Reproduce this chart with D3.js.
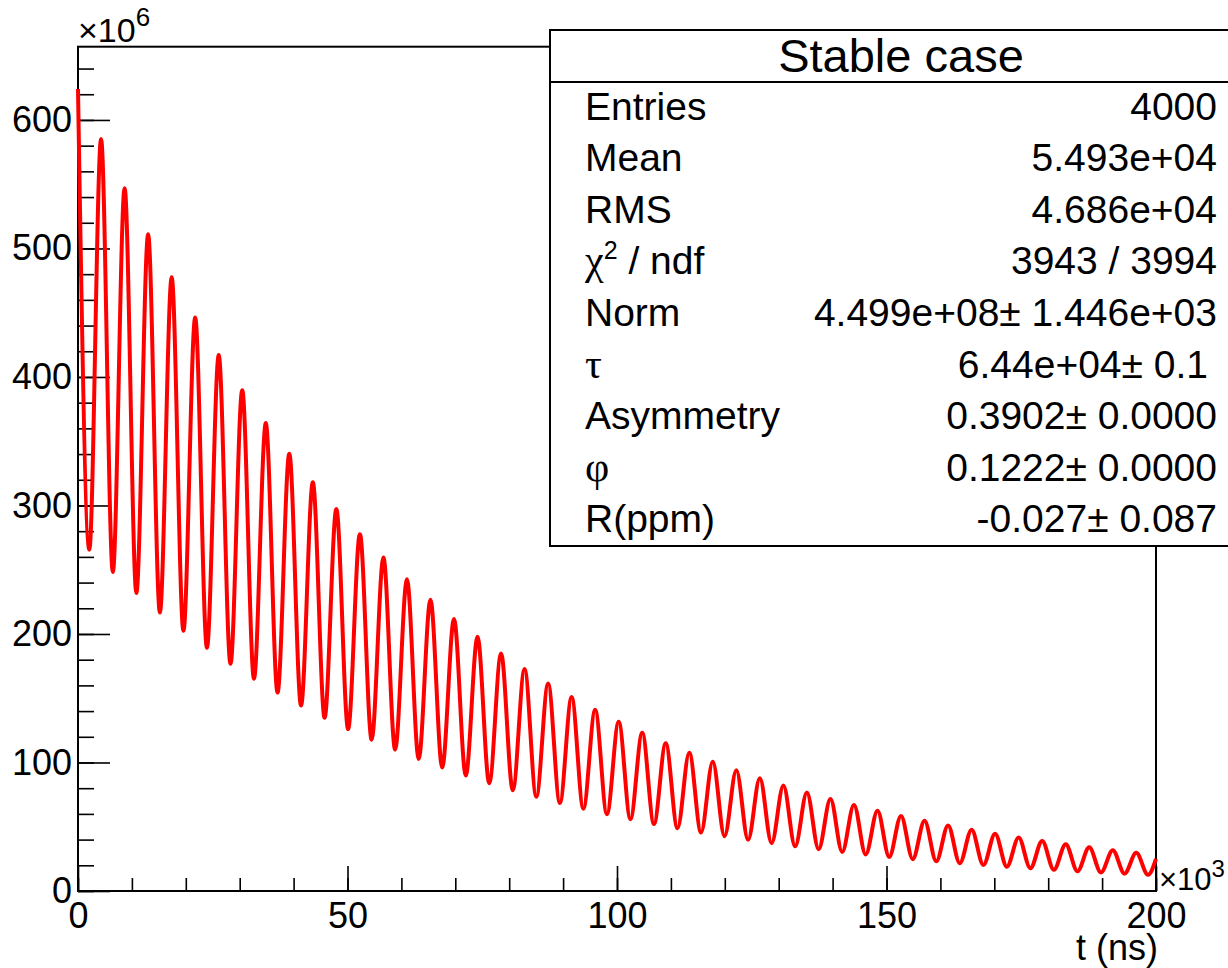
<!DOCTYPE html>
<html>
<head>
<meta charset="utf-8">
<script src="https://cdn.jsdelivr.net/npm/d3@7"></script>
<style>
  body { margin: 0; background: #fff; }
  svg { display: block; font-family: "Liberation Sans", Arial, Helvetica, sans-serif; }
  .greek { font-family: "Liberation Serif", "DejaVu Serif", serif; }
</style>
</head>
<body>
<div id="chart"></div>
<script>
// fitted curve at its peaks and troughs (t in 10^3 ns, counts in 10^6)
var fitTimes = [
    0, 2.10, 4.28, 6.46, 8.65, 10.83, 13.01, 15.19, 17.38, 19.56, 21.74,
    23.92, 26.11, 28.29, 30.47, 32.65, 34.84, 37.02, 39.20, 41.38, 43.57,
    45.75, 47.93, 50.11, 52.30, 54.48, 56.66, 58.84, 61.03, 63.21, 65.39,
    67.57, 69.76, 71.94, 74.12, 76.30, 78.49, 80.67, 82.85, 85.03, 87.22,
    89.40, 91.58, 93.76, 95.95, 98.13, 100.31, 102.49, 104.68, 106.86, 109.04,
    111.22, 113.41, 115.59, 117.77, 119.95, 122.14, 124.32, 126.50, 128.68, 130.87,
    133.05, 135.23, 137.41, 139.60, 141.78, 143.96, 146.14, 148.33, 150.51, 152.69,
    154.87, 157.06, 159.24, 161.42, 163.60, 165.79, 167.97, 170.15, 172.33, 174.52,
    176.70, 178.88, 181.06, 183.25, 185.43, 187.61, 189.79, 191.98, 194.16, 196.34,
    198.52, 200
];
var fitCounts = [
    624.1, 265.6, 585.2, 248.2, 546.9, 231.9, 511.0, 216.7, 477.6, 202.5, 446.3,
    189.2, 417.0, 176.8, 389.7, 165.2, 364.1, 154.4, 340.3, 144.3, 318.0,
    134.8, 297.2, 126.0, 277.7, 117.7, 259.5, 110.0, 242.5, 102.8, 226.6,
    96.1, 211.7, 89.8, 197.9, 83.9, 184.9, 78.4, 172.8, 73.3, 161.5,
    68.5, 150.9, 64.0, 141.0, 59.8, 131.7, 55.9, 123.1, 52.2, 115.0,
    48.8, 107.5, 45.6, 100.5, 42.6, 93.9, 39.8, 87.7, 37.2, 82.0,
    34.8, 76.6, 32.5, 71.6, 30.4, 66.9, 28.4, 62.5, 26.5, 58.4,
    24.8, 54.6, 23.1, 51.0, 21.6, 47.7, 20.2, 44.5, 18.9, 41.6,
    17.7, 38.9, 16.5, 36.4, 15.4, 34.0, 14.4, 31.7, 13.5, 29.7,
    12.6, 25.0
];

var xMajorTicks = [0, 50, 100, 150, 200];
var xMinorTicks = d3.range(0, 201, 10);
var yMajorTicks = [0, 100, 200, 300, 400, 500, 600];
var yMinorTicks = d3.range(0, 641, 20);

var statsTitle = "Stable case";
var statsLabels = ["Entries", "Mean", "RMS", "chi2", "Norm", "τ", "Asymmetry", "φ", "R(ppm)"];
var statsValues = ["4000", "5.493e+04", "4.686e+04", "3943 / 3994", "4.499e+08\u00b1 1.446e+03",
    "6.44e+04\u00b1 0.1", "0.3902\u00b1 0.0000", "0.1222\u00b1 0.0000", "-0.027\u00b1 0.087"];

var width = 1228,
    height = 968;

// frame edges in pixels
var frameL = 78, frameR = 1156, frameT = 46.7, frameB = 891;

var x = d3.scaleLinear().domain([0, 200]).range([frameL, frameR]);
var y = d3.scaleLinear().domain([0, 657]).range([frameB, frameT]);

var svg = d3.select("#chart")
    .append("svg")
    .attr("width", width)
    .attr("height", height);

// frame
svg.append("rect")
    .attr("x", frameL)
    .attr("y", frameT)
    .attr("width", frameR - frameL)
    .attr("height", frameB - frameT)
    .attr("fill", "none")
    .attr("stroke", "#000")
    .attr("stroke-width", 2);

// x axis: major ticks with labels, minor ticks without
svg.append("g")
    .attr("transform", "translate(0," + frameB + ")")
    .call(d3.axisBottom(x).tickValues(xMajorTicks).tickSizeInner(-25).tickSizeOuter(0)
        .tickPadding(11).tickFormat(d3.format("d")));
svg.append("g")
    .attr("transform", "translate(0," + frameB + ")")
    .call(d3.axisBottom(x).tickValues(xMinorTicks).tickSizeInner(-13).tickSizeOuter(0)
        .tickFormat(""));

svg.append("g")
    .attr("transform", "translate(" + frameL + ",0)")
    .call(d3.axisLeft(y).tickValues(yMajorTicks).tickSizeInner(-32).tickSizeOuter(0)
        .tickPadding(6).tickFormat(d3.format("d")));
svg.append("g")
    .attr("transform", "translate(" + frameL + ",0)")
    .call(d3.axisLeft(y).tickValues(yMinorTicks).tickSizeInner(-16).tickSizeOuter(0)
        .tickFormat(""));

svg.selectAll(".domain").remove();
svg.selectAll(".tick line").attr("stroke", "#000").attr("stroke-width", 1.6);
svg.selectAll(".tick text")
    .attr("fill", "#000")
    .style("font-size", "36px")
    .style("font-family", "'Liberation Sans', Arial, Helvetica, sans-serif");

// exponent labels
var e6 = svg.append("text")
    .attr("x", frameL)
    .attr("y", 42)
    .style("font-size", "34px");
e6.append("tspan").text("\u00d710");
e6.append("tspan").attr("dy", -16).style("font-size", "26px").text("6");

var e3 = svg.append("text")
    .attr("x", frameR + 3)
    .attr("y", 890)
    .style("font-size", "31px");
e3.append("tspan").text("\u00d710");
e3.append("tspan").attr("dy", -13).style("font-size", "24px").text("3");

svg.append("text")
    .attr("x", frameR + 2)
    .attr("y", 960)
    .attr("text-anchor", "end")
    .style("font-size", "36px")
    .text("t (ns)");

// fit curve
var line = d3.line()
    .x(function (d, i) { return x(fitTimes[i]); })
    .y(function (d) { return y(d); })
    .curve(d3.curveMonotoneX);

svg.append("path")
    .datum(fitCounts)
    .attr("d", line)
    .attr("fill", "none")
    .attr("stroke", "#ff0000")
    .attr("stroke-width", 4)
    .attr("stroke-linejoin", "round");

// stats box
var boxX = 550, boxY = 30, boxW = 702, boxH = 516, headH = 52;
var stats = svg.append("g");
stats.append("rect")
    .attr("x", boxX)
    .attr("y", boxY)
    .attr("width", boxW)
    .attr("height", boxH)
    .attr("fill", "#fff")
    .attr("stroke", "#000")
    .attr("stroke-width", 2);
stats.append("line")
    .attr("x1", boxX).attr("x2", boxX + boxW)
    .attr("y1", boxY + headH).attr("y2", boxY + headH)
    .attr("stroke", "#000")
    .attr("stroke-width", 2);
stats.append("text")
    .attr("x", boxX + boxW / 2)
    .attr("y", boxY + 42)
    .attr("text-anchor", "middle")
    .style("font-size", "47px")
    .text(statsTitle);

var rowH = (boxH - headH) / statsLabels.length;
statsLabels.forEach(function (lab, i) {
    var by = boxY + headH + rowH * (i + 0.5) + 12;
    var t = stats.append("text")
        .attr("x", 585)
        .attr("y", by)
        .style("font-size", "39px");
    if (lab === "chi2") {
        t.append("tspan").attr("class", "greek").style("font-size", "42px").text("\u03c7");
        t.append("tspan").attr("dy", -15).style("font-size", "25px").text("2");
        t.append("tspan").attr("dy", 15).text(" / ndf");
    } else if (lab === "τ" || lab === "φ") {
        t.attr("class", "greek").style("font-size", "42px").text(lab);
    } else {
        t.text(lab);
    }
    stats.append("text")
        .attr("x", lab === "τ" ? 1208 : 1217)
        .attr("y", by)
        .attr("text-anchor", "end")
        .style("font-size", "39px")
        .text(statsValues[i]);
});
</script>
</body>
</html>
